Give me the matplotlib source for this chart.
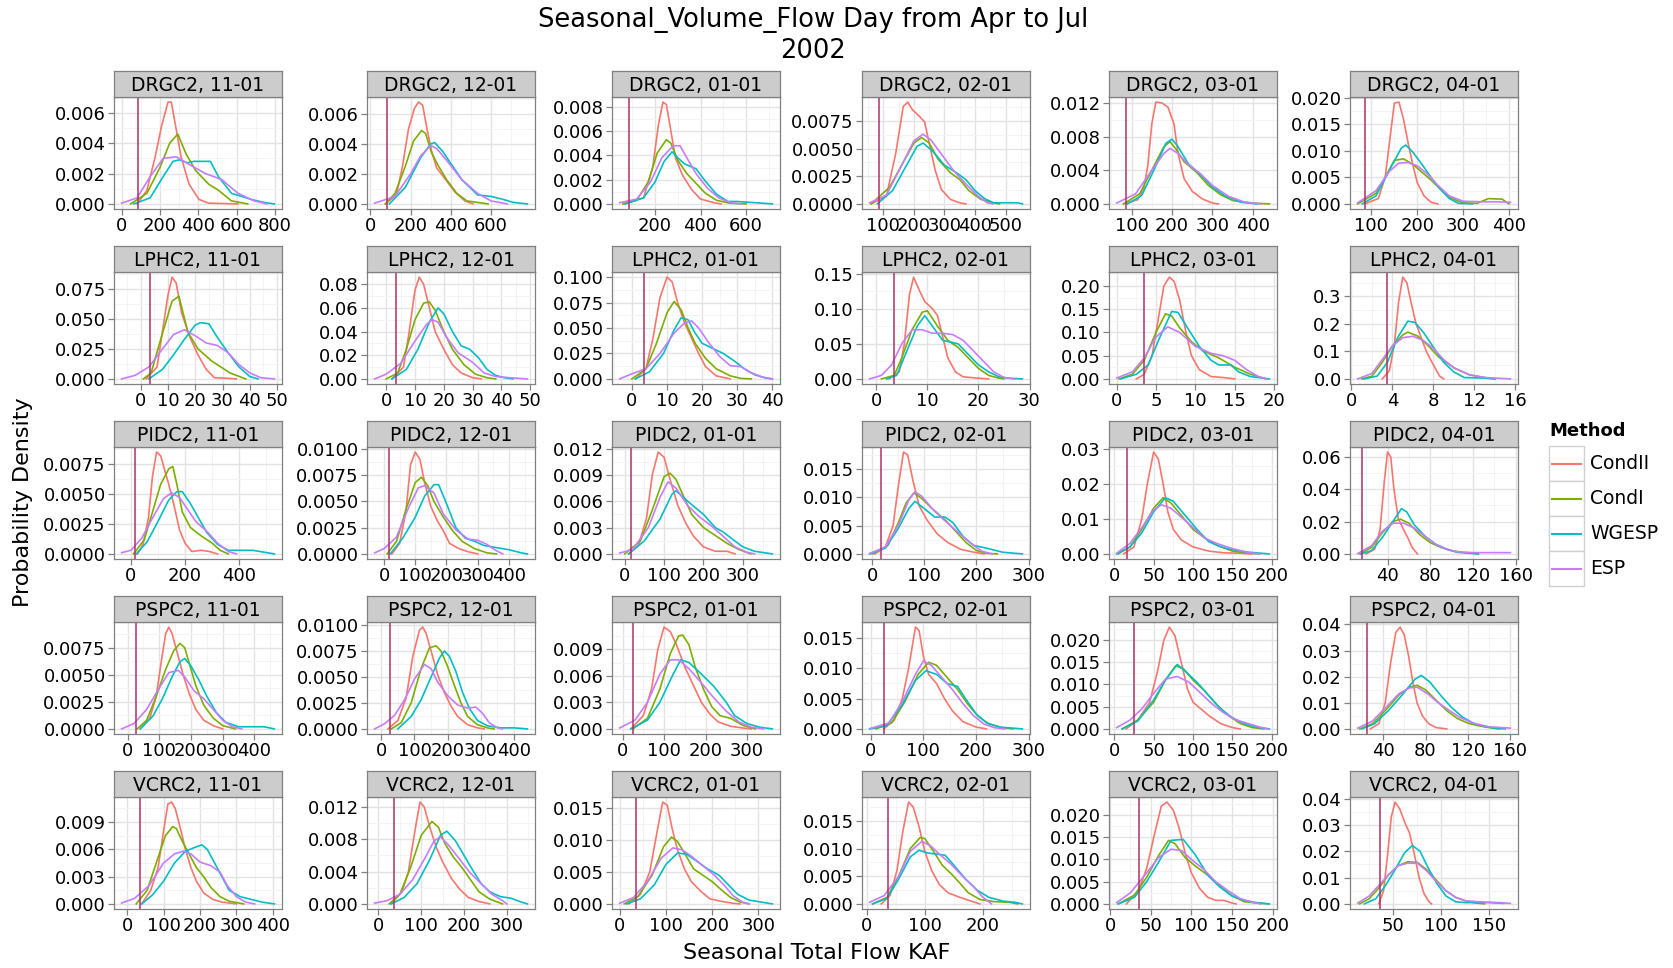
import matplotlib
matplotlib.use("Agg")
import matplotlib.pyplot as plt
from matplotlib.patches import Rectangle
from matplotlib.ticker import FixedLocator

plt.rcParams['font.family'] = ['DejaVu Sans']

stations = ["DRGC2", "LPHC2", "PIDC2", "PSPC2", "VCRC2"]
dates = ["11-01", "12-01", "01-01", "02-01", "03-01", "04-01"]
methods = ["CondII", "CondI", "WGESP", "ESP"]
method_colors = ["#F8766D", "#7CAE00", "#00BFC4", "#C77CFF"]
observed = [85, 3.5, 16, 25, 36]

# ---------------- DRGC2 ----------------
DRGC2_CondII = [
    [(81,0),(132,0.0009),(175,0.0031),(208,0.0051),(242,0.0067),(259,0.0067),(285,0.0049),(310,0.0031),(352,0.0013),(403,0.0003),(454,0.00005),(607,0)],
    [(75,0),(130,0.0006),(160,0.0025),(190,0.005),(220,0.0064),(240,0.0068),(260,0.0066),(285,0.0048),(305,0.0035),(330,0.0024),(370,0.0017),(420,0.0008),(470,0.0002),(510,0)],
    [(60,0),(150,0.0005),(190,0.003),(215,0.0065),(235,0.0084),(250,0.0082),(270,0.006),(290,0.0038),(320,0.0024),(360,0.0012),(400,0.0004),(460,0.0001),(490,0)],
    [(60,0),(110,0.0007),(140,0.0045),(165,0.0088),(180,0.0092),(195,0.0085),(215,0.008),(235,0.0074),(250,0.0055),(270,0.003),(290,0.0013),(320,0.0004),(350,0.0001),(370,0)],
    [(80,0),(115,0.0005),(130,0.0018),(140,0.0045),(150,0.0095),(160,0.0121),(175,0.012),(190,0.0115),(205,0.0095),(215,0.006),(230,0.003),(250,0.0015),(275,0.0006),(300,0.0001),(315,0)],
    [(85,0),(115,0.001),(130,0.005),(140,0.012),(150,0.019),(160,0.0192),(170,0.016),(180,0.0115),(190,0.0075),(200,0.004),(215,0.0015),(230,0.0003),(245,0)],
]
DRGC2_CondI = [
    [(47,0),(132,0.0007),(200,0.0024),(251,0.004),(293,0.0046),(336,0.0033),(386,0.0022),(454,0.0013),(505,0.0009),(573,0.0002),(658,0)],
    [(75,0),(123,0.0007),(174,0.0025),(215,0.0042),(255,0.0049),(275,0.0047),(305,0.0034),(340,0.0025),(380,0.0016),(430,0.0007),(480,0.0002),(585,0)],
    [(60,0),(120,0.0003),(170,0.0018),(210,0.0042),(250,0.0053),(270,0.005),(300,0.0036),(340,0.0025),(380,0.0017),(420,0.0009),(470,0.0003),(530,0.00005),(600,0)],
    [(60,0),(120,0.0015),(160,0.0035),(200,0.0055),(225,0.006),(250,0.0055),(280,0.004),(320,0.0028),(350,0.0022),(380,0.0012),(420,0.0004),(460,0.0001),(480,0)],
    [(80,0),(120,0.0012),(150,0.004),(180,0.0068),(195,0.0074),(210,0.0065),(230,0.005),(260,0.0038),(290,0.0022),(320,0.0011),(350,0.0004),(400,0.0001),(441,0)],
    [(70,0),(110,0.002),(130,0.005),(150,0.0082),(170,0.0085),(190,0.0075),(210,0.006),(230,0.0045),(250,0.0028),(270,0.0012),(300,0.0002),(330,0.0001),(355,0.001),(385,0.0009),(400,0)],
]
DRGC2_WGESP = [
    [(64,0),(149,0.0004),(217,0.0018),(268,0.0028),(302,0.0029),(344,0.0027),(378,0.0028),(463,0.0028),(505,0.0018),(573,0.0007),(675,0.0003),(742,0.0001),(797,0)],
    [(95,0),(174,0.0011),(251,0.0031),(300,0.004),(320,0.0041),(360,0.0035),(400,0.0027),(456,0.0016),(533,0.0006),(600,0.0005),(660,0.0003),(710,0.0001),(780,0)],
    [(70,0),(150,0.0005),(200,0.0018),(240,0.0035),(275,0.0043),(300,0.0038),(330,0.0033),(380,0.0029),(420,0.0019),(470,0.0008),(520,0.0002),(560,0.0002),(640,0.0001),(715,0)],
    [(80,0),(130,0.0012),(170,0.0032),(210,0.0052),(230,0.0055),(260,0.0048),(300,0.0035),(340,0.0028),(370,0.0022),(400,0.0012),(430,0.0005),(460,0.0001),(480,0.0001),(540,0.0001),(555,0)],
    [(90,0),(125,0.001),(155,0.004),(185,0.0072),(200,0.0077),(215,0.0068),(240,0.0048),(270,0.0035),(300,0.002),(330,0.001),(370,0.0002),(410,0)],
    [(80,0),(110,0.0015),(140,0.0065),(165,0.0105),(175,0.0111),(190,0.0098),(210,0.0075),(230,0.005),(250,0.0028),(270,0.001),(290,0.0001),(320,0)],
]
DRGC2_ESP = [
    [(0,0.00005),(81,0.0004),(149,0.0018),(217,0.003),(285,0.0031),(352,0.0026),(437,0.002),(522,0.0016),(607,0.0007),(691,0.0002),(759,0)],
    [(22,0.00005),(123,0.0005),(200,0.002),(250,0.0032),(300,0.0039),(330,0.0037),(380,0.0029),(456,0.0016),(533,0.0007),(600,0.0002),(680,0)],
    [(45,0.0001),(120,0.0004),(180,0.0018),(230,0.0038),(280,0.0048),(310,0.0048),(340,0.0038),(380,0.0025),(430,0.0013),(480,0.0005),(530,0.0001),(580,0)],
    [(55,0.0001),(110,0.0008),(160,0.0035),(200,0.0057),(230,0.0063),(255,0.0058),(290,0.0045),(330,0.003),(370,0.0018),(410,0.0007),(440,0.0001),(460,0)],
    [(63,0.0001),(110,0.0012),(150,0.004),(180,0.006),(195,0.0066),(215,0.006),(240,0.0047),(270,0.0036),(300,0.0022),(340,0.0009),(380,0.0002),(420,0)],
    [(70,0.0002),(110,0.0025),(140,0.0062),(160,0.0077),(180,0.0078),(200,0.0072),(220,0.0058),(245,0.0035),(270,0.0015),(300,0.0005),(340,0.0004),(370,0.0004),(403,0.0003)],
]

# ---------------- LPHC2 ----------------
LPHC2_CondII = [
    [(2,0),(6,0.01),(8,0.04),(10,0.07),(11.5,0.085),(13,0.08),(15,0.055),(18,0.035),(21,0.02),(24,0.008),(27,0.001),(32,0.0005),(35,0)],
    [(2,0),(6,0.01),(8,0.04),(10,0.075),(11.5,0.086),(13,0.08),(15,0.06),(17,0.04),(20,0.025),(23,0.012),(26,0.005),(30,0.001),(33,0)],
    [(1,0),(4,0.01),(6,0.04),(8,0.08),(10,0.1),(11.5,0.095),(13,0.075),(15,0.055),(17,0.04),(19,0.025),(21,0.012),(24,0.003),(28,0)],
    [(2.5,0),(4.5,0.01),(5.5,0.05),(6.5,0.12),(7.3,0.145),(8.5,0.125),(9.5,0.11),(11,0.1),(12,0.09),(13,0.06),(14,0.03),(15.5,0.01),(17,0.003),(20,0.001),(22,0)],
    [(2.5,0),(3.5,0.01),(4.5,0.05),(5.3,0.13),(6,0.2),(6.7,0.219),(7.3,0.21),(8,0.17),(8.8,0.1),(9.5,0.05),(10.5,0.02),(12,0.005),(13.5,0.003),(15,0)],
    [(3,0),(3.7,0.03),(4.2,0.13),(4.6,0.28),(5,0.37),(5.4,0.35),(5.8,0.28),(6.3,0.2),(6.8,0.15),(7.3,0.1),(8,0.05),(8.6,0.01),(9,0)],
]
LPHC2_CondI = [
    [(1,0),(3.8,0.005),(7.7,0.036),(11.5,0.065),(14,0.069),(17.3,0.039),(21,0.025),(26,0.015),(32.7,0.005),(38.5,0)],
    [(0,0),(4,0.005),(7,0.025),(10,0.05),(13,0.064),(15,0.065),(17,0.058),(20,0.04),(23,0.025),(27,0.012),(31,0.004),(35,0.001),(38,0)],
    [(0,0),(4,0.01),(7,0.035),(10,0.065),(12,0.076),(14,0.068),(16,0.05),(18,0.035),(21,0.02),(24,0.01),(28,0.003),(31,0.0005),(34,0)],
    [(1,0),(3.5,0.005),(5,0.03),(7,0.07),(9,0.095),(10,0.097),(12,0.075),(14,0.055),(16,0.045),(18,0.03),(20,0.015),(22,0.005),(24,0.001),(25,0)],
    [(0.3,0),(2,0.01),(3.5,0.04),(5,0.1),(6.2,0.14),(7,0.135),(8,0.11),(9.5,0.08),(11,0.06),(13,0.045),(15,0.025),(17,0.01),(19,0)],
    [(1,0),(2,0.01),(3,0.06),(4,0.12),(5,0.16),(5.5,0.17),(6.5,0.155),(7.5,0.12),(8.5,0.08),(10,0.04),(11.5,0.015),(13,0.005),(14,0)],
]
LPHC2_WGESP = [
    [(3,0),(8,0.008),(12,0.02),(16,0.033),(20,0.045),(22,0.047),(25,0.046),(28,0.035),(32,0.022),(36,0.01),(40,0.002),(43,0)],
    [(2,0),(7,0.008),(11,0.025),(15,0.048),(18,0.06),(20,0.055),(23,0.04),(26,0.028),(29,0.025),(32,0.018),(35,0.008),(38,0.003),(41,0.001),(44,0)],
    [(1,0),(5,0.007),(9,0.025),(12,0.048),(14,0.06),(16,0.058),(18,0.045),(20,0.035),(23,0.03),(26,0.025),(29,0.018),(32,0.01),(35,0.004),(38,0.001),(40,0)],
    [(2,0),(4,0.005),(6,0.04),(8,0.075),(9.5,0.09),(11,0.075),(13,0.055),(16,0.05),(18,0.035),(20,0.02),(22,0.01),(24,0.003),(26,0.001),(28.6,0)],
    [(0.5,0),(2.5,0.01),(4,0.03),(5.5,0.09),(7,0.145),(7.8,0.143),(9,0.11),(10.5,0.07),(12,0.04),(13,0.03),(14.5,0.03),(15.5,0.015),(17,0.005),(19.4,0)],
    [(1.2,0),(2.5,0.01),(3.5,0.06),(4.5,0.15),(5.5,0.21),(6.2,0.205),(7,0.17),(8,0.115),(9,0.06),(10,0.025),(11,0.005),(12,0.004),(13,0.003),(14,0)],
]
LPHC2_ESP = [
    [(-7,0),(-2,0.003),(3,0.01),(8,0.025),(12,0.037),(16,0.041),(20,0.036),(24,0.03),(28,0.028),(32,0.022),(36,0.012),(40,0.005),(44,0.001),(49,0)],
    [(-4,0),(0,0.004),(5,0.013),(10,0.032),(14,0.046),(16,0.05),(18,0.048),(21,0.035),(25,0.022),(30,0.014),(34,0.005),(38,0.002),(43,0.001),(49,0)],
    [(-3.5,0),(0,0.005),(4,0.01),(8,0.025),(12,0.045),(15,0.055),(17,0.057),(19,0.05),(22,0.035),(25,0.022),(28,0.013),(31,0.012),(34,0.006),(37,0.002),(40,0)],
    [(-1.3,0),(1,0.005),(3,0.02),(5,0.05),(7,0.07),(9,0.07),(11,0.065),(13,0.065),(15,0.063),(17,0.055),(19,0.04),(21,0.025),(23,0.01),(25,0.002),(27,0)],
    [(0,0.002),(2,0.015),(3.5,0.045),(5,0.09),(6.5,0.112),(8,0.1),(10,0.07),(12,0.055),(13.5,0.05),(15,0.04),(16.5,0.02),(18,0.005),(19,0)],
    [(0.6,0),(2,0.02),(3,0.07),(4,0.12),(5,0.15),(6,0.155),(7,0.14),(8,0.11),(9,0.07),(10,0.04),(11.5,0.015),(13,0.005),(15.5,0)],
]

# ---------------- PIDC2 ----------------
PIDC2_CondII = [
    [(25,0),(45,0.0008),(65,0.003),(80,0.0065),(95,0.0085),(110,0.0082),(125,0.007),(140,0.0058),(160,0.004),(180,0.002),(200,0.0009),(225,0.0002),(260,0.0003),(290,0.0002),(320,0)],
    [(25,0),(50,0.001),(70,0.004),(85,0.0085),(100,0.0097),(115,0.009),(130,0.0068),(150,0.0045),(170,0.0032),(190,0.0022),(210,0.001),(240,0.0005),(270,0.0002),(300,0)],
    [(10,0),(35,0.001),(55,0.004),(70,0.009),(85,0.0116),(100,0.011),(115,0.0085),(135,0.0055),(155,0.0035),(175,0.002),(200,0.0008),(230,0.0003),(260,0.0003),(280,0)],
    [(5,0),(25,0.0012),(40,0.005),(50,0.012),(60,0.018),(68,0.0175),(78,0.013),(90,0.0085),(105,0.006),(125,0.0035),(145,0.002),(170,0.0008),(195,0.0003),(215,0)],
    [(12,0),(25,0.002),(35,0.01),(42,0.02),(50,0.029),(56,0.027),(62,0.02),(68,0.012),(75,0.007),(85,0.004),(100,0.002),(120,0.0008),(140,0.0003),(160,0.0002),(175,0)],
    [(20,0),(28,0.003),(33,0.015),(37,0.045),(40,0.063),(43,0.06),(46,0.04),(50,0.022),(55,0.015),(59,0.01),(63,0.004),(68,0)],
]
PIDC2_CondI = [
    [(10,0),(50,0.0012),(80,0.0035),(110,0.0058),(140,0.0071),(155,0.0073),(170,0.0058),(190,0.0035),(220,0.0022),(260,0.0015),(300,0.0009),(330,0.0003),(360,0)],
    [(10,0),(40,0.0012),(70,0.0042),(100,0.0068),(120,0.0073),(140,0.0065),(160,0.005),(190,0.0035),(220,0.0022),(250,0.0012),(290,0.0005),(330,0.0001),(360,0)],
    [(0,0),(40,0.0015),(70,0.005),(100,0.0088),(115,0.0092),(130,0.0085),(150,0.0065),(170,0.0045),(200,0.003),(230,0.0021),(260,0.0012),(290,0.0005),(320,0)],
    [(0,0),(30,0.0015),(50,0.0055),(65,0.009),(80,0.0108),(95,0.0098),(115,0.008),(140,0.006),(160,0.004),(180,0.002),(200,0.0006),(220,0.0001),(240,0)],
    [(5,0),(20,0.002),(35,0.007),(50,0.013),(62,0.016),(72,0.0145),(85,0.011),(100,0.007),(115,0.0045),(130,0.0025),(150,0.0008),(170,0.0002),(185,0)],
    [(14,0),(25,0.004),(35,0.013),(45,0.02),(52,0.0215),(60,0.019),(70,0.012),(80,0.007),(90,0.004),(100,0.002),(110,0.001),(118,0.0005),(125,0)],
]
PIDC2_WGESP = [
    [(20,0),(60,0.001),(100,0.0027),(140,0.0045),(170,0.0052),(190,0.0052),(220,0.0042),(250,0.003),(280,0.0018),(320,0.0008),(360,0.0003),(400,0.0003),(450,0.0003),(530,0)],
    [(20,0),(60,0.0015),(100,0.0035),(130,0.0055),(160,0.0066),(175,0.0066),(200,0.0048),(230,0.0025),(260,0.0015),(290,0.0012),(320,0.0008),(360,0.0006),(400,0.0004),(440,0.0001),(459,0)],
    [(10,0),(50,0.0015),(90,0.004),(120,0.0068),(130,0.0072),(160,0.006),(200,0.0045),(230,0.003),(250,0.0025),(270,0.0018),(300,0.0008),(330,0.0003),(375,0)],
    [(-5,0),(25,0.001),(50,0.0045),(70,0.008),(82,0.0093),(100,0.008),(120,0.0065),(140,0.0065),(155,0.0055),(175,0.003),(195,0.0015),(220,0.001),(250,0.0003),(288,0)],
    [(3,0),(20,0.002),(35,0.006),(50,0.012),(65,0.016),(75,0.015),(90,0.011),(105,0.007),(120,0.0035),(135,0.002),(150,0.0012),(170,0.0005),(197,0)],
    [(15,0),(25,0.002),(35,0.01),(45,0.02),(53,0.028),(58,0.026),(65,0.018),(75,0.011),(85,0.006),(95,0.003),(105,0.001),(115,0.0005),(125,0)],
]
PIDC2_ESP = [
    [(-34,0.0001),(0,0.0003),(40,0.0013),(80,0.003),(120,0.0046),(150,0.0051),(180,0.0047),(210,0.0037),(240,0.0027),(280,0.0019),(320,0.0009),(360,0.0002),(390,0)],
    [(-30,0.0001),(0,0.0005),(40,0.0016),(80,0.0045),(110,0.0063),(130,0.0065),(160,0.0058),(190,0.0038),(230,0.0023),(270,0.0014),(300,0.0013),(330,0.0009),(360,0.0003),(380,0)],
    [(-13,0.0001),(20,0.0005),(60,0.003),(90,0.0065),(110,0.0082),(130,0.0075),(160,0.0055),(190,0.0042),(220,0.0032),(250,0.002),(280,0.0008),(310,0.0002),(330,0)],
    [(-5,0.0001),(25,0.0012),(50,0.005),(70,0.0095),(82,0.011),(95,0.0102),(115,0.008),(140,0.0058),(165,0.0038),(190,0.0018),(210,0.0005),(230,0)],
    [(3,0.0002),(20,0.003),(35,0.0075),(50,0.0125),(60,0.014),(72,0.013),(85,0.0105),(100,0.0075),(115,0.0045),(130,0.003),(150,0.0015),(170,0.0004),(185,0)],
    [(12,0.0002),(25,0.005),(35,0.014),(45,0.019),(55,0.019),(65,0.016),(75,0.011),(85,0.006),(95,0.003),(105,0.0013),(120,0.0008),(135,0.0008),(155,0.0008)],
]

# ---------------- PSPC2 ----------------
PSPC2_CondII = [
    [(40,0),(70,0.001),(90,0.003),(105,0.006),(120,0.0088),(130,0.0094),(140,0.0088),(155,0.0072),(175,0.005),(195,0.0032),(215,0.0018),(240,0.0008),(270,0.0003),(300,0)],
    [(20,0),(50,0.0008),(75,0.003),(95,0.007),(115,0.0095),(125,0.0098),(135,0.0092),(150,0.0075),(170,0.0052),(190,0.0035),(210,0.0022),(230,0.0012),(260,0.0004),(290,0.0001),(310,0)],
    [(20,0),(50,0.0015),(70,0.0045),(85,0.009),(100,0.0115),(115,0.011),(130,0.0095),(150,0.007),(170,0.005),(190,0.003),(210,0.0017),(230,0.0008),(260,0.0003),(290,0.0001),(310,0)],
    [(25,0),(45,0.0015),(60,0.005),(72,0.01),(85,0.0168),(92,0.0162),(100,0.012),(110,0.009),(125,0.0075),(140,0.005),(155,0.003),(175,0.0012),(200,0.0003),(220,0)],
    [(15,0),(30,0.002),(45,0.006),(55,0.013),(63,0.02),(70,0.0229),(77,0.021),(85,0.015),(93,0.009),(100,0.006),(110,0.0045),(120,0.003),(135,0.0012),(150,0.0003),(160,0)],
    [(28,0),(36,0.002),(42,0.01),(47,0.025),(52,0.037),(56,0.039),(60,0.036),(64,0.028),(68,0.018),(72,0.01),(77,0.005),(83,0.002),(90,0.0005),(100,0)],
]
PSPC2_CondI = [
    [(30,0),(60,0.0008),(90,0.003),(120,0.0055),(145,0.0072),(165,0.0079),(180,0.0075),(195,0.006),(215,0.004),(240,0.0022),(270,0.001),(300,0.0003),(340,0)],
    [(30,0),(60,0.0006),(90,0.0025),(120,0.0058),(145,0.0078),(165,0.008),(180,0.0075),(200,0.006),(220,0.0042),(240,0.0025),(260,0.0012),(290,0.0004),(320,0.0001),(340,0)],
    [(25,0),(60,0.0012),(90,0.0045),(115,0.0085),(135,0.0105),(145,0.0106),(160,0.0095),(175,0.007),(195,0.0045),(215,0.0025),(235,0.0015),(260,0.0012),(290,0.0004),(320,0)],
    [(10,0),(40,0.001),(65,0.0045),(90,0.009),(110,0.011),(125,0.0105),(145,0.0085),(165,0.0065),(185,0.004),(205,0.002),(225,0.0008),(250,0.0002),(270,0)],
    [(10,0),(30,0.002),(50,0.006),(65,0.011),(78,0.0142),(88,0.0135),(100,0.011),(115,0.0085),(130,0.0055),(145,0.003),(160,0.0012),(175,0.0003),(190,0)],
    [(18,0),(30,0.002),(42,0.007),(55,0.013),(65,0.016),(72,0.0167),(80,0.015),(90,0.011),(100,0.007),(110,0.004),(120,0.0022),(130,0.0012),(140,0.0005),(150,0)],
]
PSPC2_WGESP = [
    [(40,0),(80,0.0012),(110,0.0028),(140,0.0048),(165,0.0062),(180,0.0065),(200,0.0058),(225,0.0045),(250,0.003),(280,0.0015),(310,0.0006),(350,0.0002),(390,0.0002),(430,0.0002),(463,0)],
    [(50,0),(90,0.0012),(120,0.0028),(150,0.005),(175,0.0068),(190,0.0075),(205,0.007),(225,0.0055),(245,0.0035),(265,0.002),(290,0.0008),(320,0.0003),(360,0.0001),(400,0.0001),(440,0)],
    [(20,0),(60,0.001),(90,0.003),(120,0.006),(140,0.0078),(160,0.0075),(190,0.0062),(220,0.0048),(250,0.003),(270,0.0015),(300,0.0006),(330,0.0002),(361,0)],
    [(-2,0),(30,0.0005),(60,0.004),(85,0.008),(105,0.0096),(125,0.009),(145,0.0075),(165,0.007),(180,0.005),(200,0.0025),(220,0.001),(245,0.0003),(260,0.0002),(288,0)],
    [(10,0),(30,0.0018),(50,0.0065),(65,0.011),(80,0.0145),(90,0.013),(105,0.0105),(120,0.0075),(135,0.0045),(150,0.0025),(165,0.0012),(180,0.0004),(197,0)],
    [(20,0),(32,0.002),(45,0.007),(58,0.013),(70,0.019),(76,0.0205),(84,0.018),(95,0.0125),(105,0.008),(115,0.0045),(125,0.0022),(135,0.001),(145,0.0003),(155,0)],
]
PSPC2_ESP = [
    [(-19,0),(20,0.0005),(60,0.0018),(100,0.0038),(130,0.0052),(160,0.0054),(180,0.0048),(210,0.0035),(240,0.0028),(270,0.0018),(300,0.0008),(330,0.0002),(360,0)],
    [(-20,0),(10,0.0005),(40,0.0013),(70,0.0028),(100,0.0048),(130,0.0062),(150,0.0058),(170,0.0045),(200,0.0032),(230,0.0023),(260,0.002),(285,0.0021),(305,0.0015),(325,0.0006),(350,0.0001),(365,0)],
    [(-7,0.0001),(30,0.001),(60,0.003),(90,0.0062),(115,0.0078),(135,0.0078),(160,0.0068),(190,0.0052),(220,0.0035),(250,0.002),(280,0.0008),(310,0.0002),(340,0)],
    [(0,0.0001),(35,0.001),(60,0.0045),(85,0.009),(100,0.0112),(115,0.0105),(135,0.0085),(155,0.0065),(175,0.0042),(195,0.0022),(215,0.0008),(235,0.0002),(255,0)],
    [(3,0.0003),(20,0.002),(35,0.0045),(50,0.008),(65,0.0112),(80,0.0118),(95,0.0105),(110,0.008),(125,0.0055),(140,0.0035),(155,0.002),(170,0.0012),(185,0.0004),(195,0)],
    [(16,0.0003),(30,0.003),(42,0.008),(55,0.0135),(65,0.0157),(72,0.016),(82,0.0135),(92,0.01),(102,0.0072),(112,0.0045),(125,0.0022),(140,0.0008),(160,0.0003)],
]

# ---------------- VCRC2 ----------------
VCRC2_CondII = [
    [(40,0),(65,0.0015),(85,0.004),(100,0.008),(112,0.011),(122,0.0112),(132,0.0105),(145,0.0085),(160,0.006),(175,0.004),(190,0.0025),(210,0.0012),(235,0.0005),(260,0.0002),(300,0)],
    [(30,0),(55,0.0015),(70,0.004),(85,0.009),(97,0.0126),(107,0.012),(120,0.0095),(135,0.007),(150,0.0052),(170,0.0032),(190,0.0018),(210,0.0008),(235,0.0003),(260,0)],
    [(20,0),(45,0.0015),(65,0.005),(80,0.011),(93,0.016),(103,0.0155),(113,0.012),(125,0.0085),(140,0.0055),(155,0.0035),(175,0.002),(195,0.0008),(220,0.0004),(245,0.0001),(260,0)],
    [(25,0),(40,0.0015),(52,0.006),(62,0.013),(72,0.0184),(80,0.0175),(90,0.014),(100,0.0095),(112,0.006),(125,0.0035),(140,0.002),(160,0.0012),(180,0.0005),(195,0)],
    [(20,0),(35,0.003),(45,0.008),(55,0.016),(63,0.022),(70,0.0229),(78,0.021),(85,0.017),(93,0.011),(100,0.007),(110,0.0035),(120,0.0015),(130,0.0008),(140,0.0008),(150,0.0002),(155,0)],
    [(35,0),(40,0.005),(44,0.018),(48,0.033),(52,0.0387),(57,0.036),(62,0.031),(67,0.027),(72,0.019),(77,0.01),(82,0.004),(87,0.001),(90,0)],
]
VCRC2_CondI = [
    [(25,0),(55,0.0015),(80,0.0045),(105,0.0075),(125,0.0085),(135,0.0083),(150,0.007),(170,0.0055),(190,0.004),(210,0.003),(230,0.0018),(255,0.0008),(280,0.0003),(320,0)],
    [(25,0),(50,0.0012),(75,0.0045),(100,0.0085),(125,0.0102),(140,0.0095),(155,0.0075),(175,0.0058),(195,0.0045),(215,0.003),(235,0.0015),(260,0.0006),(290,0)],
    [(10,0),(40,0.0012),(70,0.0045),(95,0.009),(112,0.0105),(125,0.0098),(140,0.008),(160,0.0055),(180,0.0045),(200,0.0035),(220,0.0022),(240,0.001),(260,0.0003),(280,0)],
    [(10,0),(35,0.0012),(55,0.005),(75,0.01),(92,0.012),(100,0.0118),(115,0.0095),(130,0.007),(145,0.0055),(160,0.0038),(175,0.002),(195,0.0008),(220,0.0004),(245,0.0003),(260,0)],
    [(10,0),(30,0.002),(45,0.006),(60,0.011),(72,0.0143),(80,0.0135),(92,0.0105),(105,0.0085),(120,0.0065),(135,0.004),(150,0.0018),(165,0.0005),(180,0.0002),(195,0)],
    [(15,0),(25,0.002),(35,0.006),(45,0.011),(55,0.0145),(65,0.016),(75,0.0158),(85,0.013),(95,0.009),(105,0.005),(115,0.0025),(125,0.0012),(135,0.0004),(145,0)],
]
VCRC2_WGESP = [
    [(40,0),(70,0.001),(100,0.0025),(130,0.0045),(160,0.0058),(185,0.0062),(205,0.0065),(220,0.006),(240,0.0045),(260,0.003),(280,0.0015),(310,0.0008),(340,0.0005),(370,0.0002),(404,0)],
    [(30,0),(60,0.0008),(90,0.0025),(120,0.0055),(145,0.0085),(160,0.009),(180,0.0078),(200,0.006),(220,0.0042),(240,0.0025),(260,0.0015),(285,0.0009),(310,0.0007),(330,0.0003),(348,0)],
    [(15,0),(45,0.0008),(75,0.003),(100,0.0062),(125,0.008),(145,0.0078),(165,0.0068),(190,0.0055),(215,0.0045),(235,0.003),(255,0.0015),(280,0.0006),(305,0.0003),(330,0)],
    [(10,0),(35,0.001),(55,0.0045),(75,0.0085),(90,0.0097),(105,0.0092),(120,0.009),(135,0.0088),(150,0.007),(170,0.0045),(190,0.0025),(210,0.0012),(235,0.0005),(255,0.0003),(268,0)],
    [(10,0),(30,0.0015),(45,0.005),(60,0.0095),(75,0.0143),(90,0.0145),(105,0.011),(120,0.0065),(135,0.0038),(150,0.0018),(165,0.0008),(180,0.0003),(196,0)],
    [(20,0),(32,0.002),(42,0.007),(52,0.013),(62,0.0195),(70,0.0222),(78,0.02),(86,0.014),(95,0.008),(105,0.003),(115,0.0008),(125,0.0005),(150,0.0005),(165,0.0002)],
]
VCRC2_ESP = [
    [(-15,0.0001),(20,0.0006),(60,0.002),(100,0.0045),(130,0.0055),(155,0.0058),(175,0.0055),(200,0.0046),(230,0.0042),(255,0.0035),(275,0.002),(300,0.0008),(325,0.0002),(350,0)],
    [(-9,0.0001),(20,0.0004),(50,0.0012),(80,0.003),(110,0.0058),(130,0.0078),(145,0.0083),(165,0.0072),(190,0.0055),(215,0.0038),(240,0.0025),(265,0.0012),(290,0.0004),(300,0)],
    [(0,0.0001),(30,0.001),(60,0.0035),(90,0.0072),(115,0.0088),(135,0.0085),(155,0.0075),(180,0.006),(205,0.0045),(225,0.003),(245,0.0013),(265,0.0003),(280,0)],
    [(5,0.0003),(30,0.0015),(55,0.005),(75,0.0095),(95,0.0113),(110,0.0105),(125,0.009),(145,0.0072),(165,0.005),(185,0.003),(200,0.0012),(215,0)],
    [(8,0.0003),(25,0.0025),(45,0.007),(60,0.0105),(75,0.0123),(88,0.012),(100,0.01),(115,0.0078),(130,0.005),(145,0.003),(160,0.0012),(175,0.0004),(185,0)],
    [(13,0.0003),(25,0.003),(35,0.007),(45,0.011),(55,0.0145),(65,0.0155),(75,0.0155),(85,0.0125),(95,0.0085),(105,0.005),(115,0.0025),(125,0.0012),(140,0.0008),(160,0.0005),(172,0.0002)],
]

# ---------------- tick breaks ----------------
DRGC2_XTICKS = [[0,200,400,600,800],[0,200,400,600],[200,400,600],[100,200,300,400,500],[100,200,300,400],[100,200,300,400]]
LPHC2_XTICKS = [[0,10,20,30,40,50],[0,10,20,30,40,50],[0,10,20,30,40],[0,10,20,30],[0,5,10,15,20],[0,4,8,12,16]]
PIDC2_XTICKS = [[0,200,400],[0,100,200,300,400],[0,100,200,300],[0,100,200,300],[0,50,100,150,200],[40,80,120,160]]
PSPC2_XTICKS = [[0,100,200,300,400],[0,100,200,300,400],[0,100,200,300],[0,100,200,300],[0,50,100,150,200],[40,80,120,160]]
VCRC2_XTICKS = [[0,100,200,300,400],[0,100,200,300],[0,100,200,300],[0,100,200],[0,50,100,150,200],[50,100,150]]

DRGC2_YTICKS = [["0.000","0.002","0.004","0.006"],["0.000","0.002","0.004","0.006"],["0.000","0.002","0.004","0.006","0.008"],
                ["0.0000","0.0025","0.0050","0.0075"],["0.000","0.004","0.008","0.012"],["0.000","0.005","0.010","0.015","0.020"]]
LPHC2_YTICKS = [["0.000","0.025","0.050","0.075"],["0.00","0.02","0.04","0.06","0.08"],["0.000","0.025","0.050","0.075","0.100"],
                ["0.00","0.05","0.10","0.15"],["0.00","0.05","0.10","0.15","0.20"],["0.0","0.1","0.2","0.3"]]
PIDC2_YTICKS = [["0.0000","0.0025","0.0050","0.0075"],["0.0000","0.0025","0.0050","0.0075","0.0100"],["0.000","0.003","0.006","0.009","0.012"],
                ["0.000","0.005","0.010","0.015"],["0.00","0.01","0.02","0.03"],["0.00","0.02","0.04","0.06"]]
PSPC2_YTICKS = [["0.0000","0.0025","0.0050","0.0075"],["0.0000","0.0025","0.0050","0.0075","0.0100"],["0.000","0.003","0.006","0.009"],
                ["0.000","0.005","0.010","0.015"],["0.000","0.005","0.010","0.015","0.020"],["0.00","0.01","0.02","0.03","0.04"]]
VCRC2_YTICKS = [["0.000","0.003","0.006","0.009"],["0.000","0.004","0.008","0.012"],["0.000","0.005","0.010","0.015"],
                ["0.000","0.005","0.010","0.015"],["0.000","0.005","0.010","0.015","0.020"],["0.00","0.01","0.02","0.03","0.04"]]

curves = {
    "DRGC2": [DRGC2_CondII, DRGC2_CondI, DRGC2_WGESP, DRGC2_ESP],
    "LPHC2": [LPHC2_CondII, LPHC2_CondI, LPHC2_WGESP, LPHC2_ESP],
    "PIDC2": [PIDC2_CondII, PIDC2_CondI, PIDC2_WGESP, PIDC2_ESP],
    "PSPC2": [PSPC2_CondII, PSPC2_CondI, PSPC2_WGESP, PSPC2_ESP],
    "VCRC2": [VCRC2_CondII, VCRC2_CondI, VCRC2_WGESP, VCRC2_ESP],
}
xticks_all = {"DRGC2": DRGC2_XTICKS, "LPHC2": LPHC2_XTICKS, "PIDC2": PIDC2_XTICKS,
              "PSPC2": PSPC2_XTICKS, "VCRC2": VCRC2_XTICKS}
yticks_all = {"DRGC2": DRGC2_YTICKS, "LPHC2": LPHC2_YTICKS, "PIDC2": PIDC2_YTICKS,
              "PSPC2": PSPC2_YTICKS, "VCRC2": VCRC2_YTICKS}

# ---------------- layout (pixels) ----------------
W, H = 1673, 968
fig = plt.figure(figsize=(W / 100, H / 100), dpi=100)
fig.patch.set_facecolor("white")

col_left = [114, 367, 612, 862, 1109, 1350]
row_top = [97, 272, 447, 622, 797]
pw, ph = 168, 112
strip_h = 26

TICK_FS = 13
GRID_MAJ = "#E3E3E3"
GRID_MIN = "#F4F4F4"
BORDER = "#808080"


def minor_positions(ticks, lo, hi):
    step = ticks[1] - ticks[0]
    out = []
    v = ticks[0] - step / 2
    while v > lo:
        v -= step
    while v < hi:
        if lo <= v <= hi:
            out.append(v)
        v += step
    return out


for r, st in enumerate(stations):
    for c, dt in enumerate(dates):
        x0, y0 = col_left[c], row_top[r]
        ax = fig.add_axes([x0 / W, 1 - (y0 + ph) / H, pw / W, ph / H])
        ax.set_facecolor("white")
        for m_i, m in enumerate(methods):
            pts = curves[st][m_i][c]
            xs = [p[0] for p in pts]
            ys = [p[1] for p in pts]
            ax.plot(xs, ys, color=method_colors[m_i], lw=1.2, solid_joinstyle="round", zorder=3)
        ax.margins(x=0.05, y=0.05)
        ax.autoscale_view()
        xl = ax.get_xlim()
        yl = ax.get_ylim()
        ax.axvline(observed[r], color="#B0306A", lw=1.1, zorder=4)

        xt = xticks_all[st][c]
        ytl = yticks_all[st][c]
        yt = [float(s) for s in ytl]
        ax.set_xticks(xt)
        ax.set_xticklabels([str(v) for v in xt])
        ax.set_yticks(yt)
        ax.set_yticklabels(ytl)
        ax.xaxis.set_minor_locator(FixedLocator(minor_positions(xt, xl[0], xl[1])))
        ax.yaxis.set_minor_locator(FixedLocator(minor_positions(yt, yl[0], yl[1])))
        ax.set_xlim(xl)
        ax.set_ylim(yl)

        ax.grid(True, which="major", color=GRID_MAJ, lw=1.0, zorder=0)
        ax.grid(True, which="minor", color=GRID_MIN, lw=0.7, zorder=0)
        ax.set_axisbelow(True)
        ax.tick_params(which="major", direction="out", length=4, width=0.9,
                       color=BORDER, labelsize=TICK_FS, pad=2, labelcolor="black")
        ax.tick_params(which="minor", length=0)
        for sp in ax.spines.values():
            sp.set_color(BORDER)
            sp.set_linewidth(0.9)

        # facet strip
        sax = fig.add_axes([x0 / W, 1 - y0 / H, pw / W, strip_h / H])
        sax.set_facecolor("#CCCCCC")
        sax.set_xticks([])
        sax.set_yticks([])
        for sp in sax.spines.values():
            sp.set_color(BORDER)
            sp.set_linewidth(0.9)
        sax.text(0.5, 0.45, f"{st}, {dt}", ha="center", va="center",
                 fontsize=13.5, transform=sax.transAxes)

# titles
fig.text(813 / W, 1 - 20 / H, "Seasonal_Volume_Flow Day from Apr to Jul",
         ha="center", va="center", fontsize=18.5)
fig.text(813 / W, 1 - 51 / H, "2002", ha="center", va="center", fontsize=18.5)
fig.text(817 / W, 1 - 953 / H, "Seasonal Total Flow KAF", ha="center", va="center", fontsize=16)
fig.text(23 / W, 1 - 502 / H, "Probability Density", rotation=90,
         ha="center", va="center", fontsize=16)

# legend
lax = fig.add_axes([0, 0, 1, 1], zorder=-1)
lax.set_xlim(0, W)
lax.set_ylim(H, 0)
lax.axis("off")
lax.text(1549, 431, "Method", fontsize=13, fontweight="bold", ha="left", va="center")
key_top = 446
key_h = 35
for i, m in enumerate(methods):
    top = key_top + i * key_h
    lax.add_patch(Rectangle((1549, top), 35, key_h, facecolor="white",
                            edgecolor="#D0D0D0", lw=1.0))
    cy = top + key_h / 2
    lax.plot([1552, 1581], [cy, cy], color=method_colors[i], lw=1.5)
    lax.text(1590, cy, m, fontsize=13.5, ha="left", va="center")

fig.savefig("out.png", dpi=100, facecolor="white")
